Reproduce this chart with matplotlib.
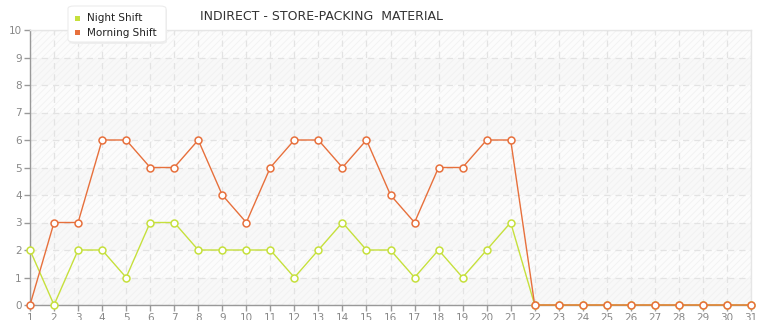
import matplotlib
matplotlib.use("Agg")
import matplotlib.pyplot as plt
from matplotlib.patches import FancyBboxPatch, Rectangle

days = list(range(1, 32))
night_shift = [2, 0, 2, 2, 1, 3, 3, 2, 2, 2, 2, 1, 2, 3, 2, 2, 1, 2, 1, 2, 3,
               0, 0, 0, 0, 0, 0, 0, 0, 0, 0]
morning_shift = [0, 3, 3, 6, 6, 5, 5, 6, 4, 3, 5, 6, 6, 5, 6, 4, 3, 5, 5, 6, 6,
                 0, 0, 0, 0, 0, 0, 0, 0, 0, 0]
y_ticks = list(range(0, 11))
title = "INDIRECT - STORE-PACKING  MATERIAL"
series_names = ["Night Shift", "Morning Shift"]

night_color = "#c6e03c"
morning_color = "#e7703c"

plt.rcParams['font.family'] = ['DejaVu Sans']
plt.rcParams['hatch.linewidth'] = 0.5
fig = plt.figure(figsize=(7.65, 3.2), dpi=100)
ax = fig.add_axes([30/765, 1-305/320, (751-30)/765, (305-30)/320])
ax.set_xlim(1, 31)
ax.set_ylim(0, 10)

# background bands + hatch
ax.set_facecolor("white")
for i in range(10):
    c = "#f8f8f8" if i % 2 == 0 else "#fcfcfc"
    ax.add_patch(Rectangle((1, i), 30, 1, facecolor=c, edgecolor="#f0f0f0",
                           hatch="/////", linewidth=0, zorder=0))

ax.set_xticks(days)
ax.set_yticks(y_ticks)
ax.grid(True, color="#e3e3e3", linestyle=(0, (5, 4)), linewidth=0.9, zorder=1)

ax.plot(days, night_shift, color=night_color, linewidth=1, marker='o', markersize=5,
        markerfacecolor='white', markeredgecolor=night_color, markeredgewidth=1.1,
        zorder=3, clip_on=False)
ax.plot(days, morning_shift, color=morning_color, linewidth=1, marker='o', markersize=5,
        markerfacecolor='white', markeredgecolor=morning_color, markeredgewidth=1.1,
        zorder=4, clip_on=False)

for s in ["left", "bottom"]:
    ax.spines[s].set_color("#999999")
    ax.spines[s].set_linewidth(1)
for s in ["top", "right"]:
    ax.spines[s].set_color("#e6e6e6")
    ax.spines[s].set_linewidth(1)
ax.tick_params(axis='both', colors="#999999", labelcolor="#888888", labelsize=7.5,
               length=4, width=1, pad=2)

fig.text(322/765, 1-17/320, title, ha='center', va='center', fontsize=9, color="#333333")

# legend with soft shadow
shadow = FancyBboxPatch((69/765, 1-44/320), (166-68)/765, (42-6)/320,
                        boxstyle="round,pad=0,rounding_size=0.008",
                        transform=fig.transFigure, facecolor="#eeeeee",
                        edgecolor='none', zorder=9)
fig.patches.append(shadow)
lg = FancyBboxPatch((68/765, 1-42/320), (166-68)/765, (42-6)/320,
                    boxstyle="round,pad=0,rounding_size=0.008",
                    transform=fig.transFigure, facecolor="white",
                    edgecolor="#ececec", linewidth=0.8, zorder=10)
fig.patches.append(lg)
for i, (name, col) in enumerate(zip(series_names, [night_color, morning_color])):
    yy = 1 - (18 + i * 14.5) / 320
    fig.patches.append(Rectangle((75/765, yy - 2.5/320), 5/765, 5/320,
                                 transform=fig.transFigure, facecolor=col,
                                 edgecolor='none', zorder=11))
    fig.text(87/765, yy, name, ha='left', va='center', fontsize=7.5,
             color="#222222", zorder=12)

fig.savefig("out.png", dpi=100)
